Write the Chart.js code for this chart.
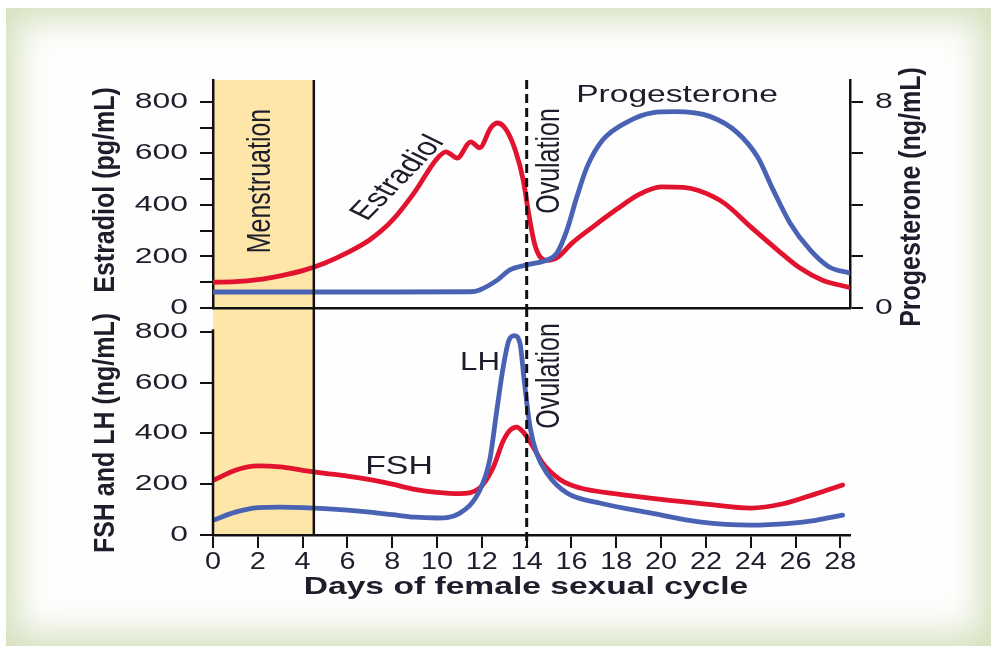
<!DOCTYPE html>
<html>
<head>
<meta charset="utf-8">
<script src="https://cdn.jsdelivr.net/npm/chart.js@4.4.1/dist/chart.umd.min.js"></script>
<style>
  html, body { margin: 0; padding: 0; background: #fff; }
  #wrap { position: relative; width: 997px; height: 655px; overflow: hidden; }
  #frame { position: absolute; left: 6px; top: 8px; width: 985px; height: 638px;
           background: #fdfefd; box-shadow: inset 0 0 32px 12px #d6e0bf; }
  canvas { position: absolute; left: 0; top: 0; }
</style>
</head>
<body>
<div id="wrap">
  <div id="frame"></div>
  <canvas id="bottom" width="997" height="655"></canvas>
  <canvas id="top" width="997" height="655"></canvas>
</div>
<script>
// estradiol (pg/mL), top panel, left axis
const estradiolDays = [0, 1, 2, 3, 4, 5, 6, 7, 8, 9, 10, 10.4, 10.9, 11.5, 11.9, 12.4, 12.7, 13.1, 13.5, 13.85, 14.1, 14.35, 14.6, 14.9, 15.4, 16, 17, 18, 19, 20, 21, 21.7, 22.8, 24, 25.2, 26.2, 27.2, 28.4];
const estradiol = [100, 102, 110, 125, 145, 175, 215, 265, 340, 450, 580, 606, 582, 645, 622, 700, 718, 690, 610, 495, 360, 250, 198, 185, 198, 250, 318, 382, 440, 470, 468, 455, 408, 315, 225, 155, 108, 80];

// progesterone (ng/mL), top panel, right axis
const progDays = [0, 4, 8, 11.5, 11.9, 12.7, 13.25, 14, 14.9, 15.35, 15.8, 16.24, 16.7, 17.4, 18.5, 19.6, 20.6, 22.2, 23.4, 24.3, 25, 25.75, 26.65, 27.5, 28.4];
const progesterone = [0.62, 0.62, 0.62, 0.63, 0.7, 1.09, 1.48, 1.67, 1.86, 2.13, 3.03, 4.31, 5.48, 6.52, 7.22, 7.57, 7.61, 7.42, 6.8, 5.86, 4.58, 3.3, 2.25, 1.59, 1.36];

// FSH and LH (ng/mL), bottom panel
const fshDays = [0, 1, 2, 3, 4, 5, 6, 7, 8, 9, 10, 11, 11.9, 12.5, 12.95, 13.25, 13.55, 13.85, 14.2, 14.7, 15.5, 16.4, 18, 20, 22, 24, 25.4, 26.9, 28.1];
const fsh = [215, 255, 272, 268, 255, 243, 232, 218, 200, 180, 168, 163, 185, 265, 370, 412, 425, 405, 360, 285, 218, 185, 162, 140, 122, 106, 122, 162, 197];
const lhDays = [0, 1, 2, 3, 4, 5, 6, 7, 8, 9, 10, 11, 11.9, 12.35, 12.65, 12.95, 13.2, 13.45, 13.7, 13.9, 14.15, 14.45, 14.9, 15.8, 17.3, 19.5, 21.7, 24, 25.75, 26.9, 28.1];
const lh = [58, 90, 108, 110, 108, 104, 98, 90, 80, 70, 67, 85, 175, 295, 480, 660, 765, 785, 755, 600, 425, 320, 244, 165, 125, 87, 52, 39, 46, 58, 78];

const menstruationEnd = 4.5;
const ovulationDay = 14;

const red = '#e2132f';
const blue = '#4a62b3';
const ink = '#1d1d2b';
const band = '#fde6a8';
const sans = '"Liberation Sans", Arial, sans-serif';

function pts(xs, ys) {
  return xs.map((d, i) => ({ x: d, y: ys[i] }));
}

function drawText(ctx, str, x, y, o) {
  ctx.save();
  ctx.translate(x, y);
  ctx.scale(o.sx || 1, 1);
  if (o.rot) ctx.rotate(o.rot);
  ctx.font = o.font;
  ctx.fillStyle = ink;
  ctx.textAlign = o.align || 'center';
  ctx.textBaseline = 'middle';
  ctx.fillText(str, 0, 0);
  ctx.restore();
}

function lineStyle(color) {
  return {
    borderColor: color, borderWidth: 4.8, pointRadius: 0,
    cubicInterpolationMode: 'monotone', borderCapStyle: 'round', fill: false
  };
}

function tickAxis(extra) {
  return Object.assign({
    type: 'linear',
    border: { display: true, color: '#111', width: 2.5 },
    grid: { drawOnChartArea: false, drawTicks: true, tickLength: 13, color: '#111', lineWidth: 2 },
    ticks: { display: false, includeBounds: false }
  }, extra);
}

// band + vertical markers, shared by both panels
const markers = {
  id: 'markers',
  beforeDraw(chart) {
    const { ctx, chartArea: a, scales: { x } } = chart;
    const x0 = x.getPixelForValue(0), x1 = x.getPixelForValue(menstruationEnd);
    ctx.save();
    ctx.fillStyle = band;
    ctx.fillRect(x0, a.top, x1 - x0, a.bottom - a.top);
    ctx.restore();
  },
  afterDatasetsDraw(chart) {
    const { ctx, chartArea: a, scales: { x } } = chart;
    const x1 = x.getPixelForValue(menstruationEnd);
    const xo = x.getPixelForValue(ovulationDay);
    const extra = chart.canvas.id === 'bottom' ? 13 : 0;
    ctx.save();
    ctx.strokeStyle = '#111';
    ctx.lineWidth = 2.5;
    ctx.beginPath();
    ctx.moveTo(x1, a.top);
    ctx.lineTo(x1, a.bottom);
    ctx.stroke();
    ctx.lineWidth = 3;
    ctx.setLineDash([9, 5]);
    ctx.beginPath();
    ctx.moveTo(xo, a.top);
    ctx.lineTo(xo, a.bottom + extra);
    ctx.stroke();
    ctx.restore();
  }
};

const topLabels = {
  id: 'topLabels',
  afterDraw(chart) {
    const { ctx, scales: { y, yR } } = chart;
    y.ticks.forEach(t => {
      if (t.value % 200 === 0)
        drawText(ctx, String(t.value), 188, y.getPixelForValue(t.value), { font: '22px ' + sans, sx: 1.45, align: 'right' });
    });
    [0, 8].forEach(v => {
      drawText(ctx, String(v), 875, yR.getPixelForValue(v), { font: '22px ' + sans, sx: 1.45, align: 'left' });
    });
    drawText(ctx, 'Estradiol (pg/mL)', 106, 190, { font: 'bold 25px ' + sans, sx: 1.2, rot: -Math.PI / 2 });
    drawText(ctx, 'Progesterone (ng/mL)', 912, 197, { font: 'bold 25px ' + sans, sx: 1.2, rot: -Math.PI / 2 });
    drawText(ctx, 'Menstruation', 261, 181, { font: '25px ' + sans, sx: 1.35, rot: -Math.PI / 2 });
    drawText(ctx, 'Ovulation', 550, 161, { font: '25px ' + sans, sx: 1.3, rot: -Math.PI / 2 });
    drawText(ctx, 'Progesterone', 677, 95, { font: '24px ' + sans, sx: 1.4 });
    drawText(ctx, 'Estradiol', 398, 178, { font: '25px ' + sans, sx: 1.4, rot: -55 * Math.PI / 180 });
  }
};

const bottomLabels = {
  id: 'bottomLabels',
  afterDraw(chart) {
    const { ctx, scales: { x, y } } = chart;
    ctx.save();
    ctx.strokeStyle = '#111';
    ctx.lineWidth = 2.5;
    ctx.beginPath();
    const ax = Math.round(x.getPixelForValue(0));
    ctx.moveTo(ax, y.getPixelForValue(810));
    ctx.lineTo(ax, y.getPixelForValue(0) + 1);
    ctx.stroke();
    ctx.restore();
    y.ticks.forEach(t => {
      drawText(ctx, String(t.value), 188, y.getPixelForValue(t.value), { font: '22px ' + sans, sx: 1.45, align: 'right' });
    });
    x.ticks.forEach(t => {
      drawText(ctx, String(t.value), x.getPixelForValue(t.value), 562, { font: '24px ' + sans, sx: 1.2 });
    });
    drawText(ctx, 'Days of female sexual cycle', 526, 587, { font: 'bold 24px ' + sans, sx: 1.4 });
    drawText(ctx, 'FSH and LH (ng/mL)', 106, 433, { font: 'bold 25px ' + sans, sx: 1.2, rot: -Math.PI / 2 });
    drawText(ctx, 'Ovulation', 550, 376, { font: '25px ' + sans, sx: 1.3, rot: -Math.PI / 2 });
    drawText(ctx, 'LH', 480, 363, { font: '26px ' + sans, sx: 1.2 });
    drawText(ctx, 'FSH', 399, 467, { font: '26px ' + sans, sx: 1.3 });
  }
};

const topChart = new Chart(document.getElementById('top'), {
  type: 'line',
  data: {
    datasets: [
      Object.assign({ label: 'Progesterone', data: pts(progDays, progesterone), yAxisID: 'yR' }, lineStyle(blue)),
      Object.assign({ label: 'Estradiol', data: pts(estradiolDays, estradiol), yAxisID: 'y' }, lineStyle(red))
    ]
  },
  options: {
    responsive: false,
    animation: false,
    layout: { padding: { left: 200, right: 134, top: 80, bottom: 347 } },
    plugins: { legend: { display: false }, tooltip: { enabled: false } },
    scales: {
      x: {
        type: 'linear', min: 0, max: 28.43,
        border: { display: true, color: '#111', width: 2.5 },
        grid: { display: false },
        ticks: { display: false },
        afterFit(s) { s.height = 0; }
      },
      y: tickAxis({ position: 'left', min: 0, max: 885, ticks: { display: false, includeBounds: false, stepSize: 100 }, afterFit(s) { s.width = 13; } }),
      yR: tickAxis({ position: 'right', min: 0, max: 8.84, ticks: { display: false, includeBounds: false, stepSize: 2 }, afterFit(s) { s.width = 13; } })
    }
  },
  plugins: [markers, topLabels]
});

const bottomChart = new Chart(document.getElementById('bottom'), {
  type: 'line',
  data: {
    datasets: [
      Object.assign({ label: 'LH', data: pts(lhDays, lh) }, lineStyle(blue)),
      Object.assign({ label: 'FSH', data: pts(fshDays, fsh) }, lineStyle(red))
    ]
  },
  options: {
    responsive: false,
    animation: false,
    layout: { padding: { left: 200, right: 147, top: 308, bottom: 107 } },
    plugins: { legend: { display: false }, tooltip: { enabled: false } },
    scales: {
      x: tickAxis({ position: 'bottom', min: 0, max: 28.43, ticks: { display: false, includeBounds: false, stepSize: 2 }, afterFit(s) { s.height = 13; } }),
      y: tickAxis({ position: 'left', min: 0, max: 894, border: { display: false }, ticks: { display: false, includeBounds: false, stepSize: 200 }, afterFit(s) { s.width = 13; } })
    }
  },
  plugins: [markers, bottomLabels]
});
</script>
</body>
</html>
